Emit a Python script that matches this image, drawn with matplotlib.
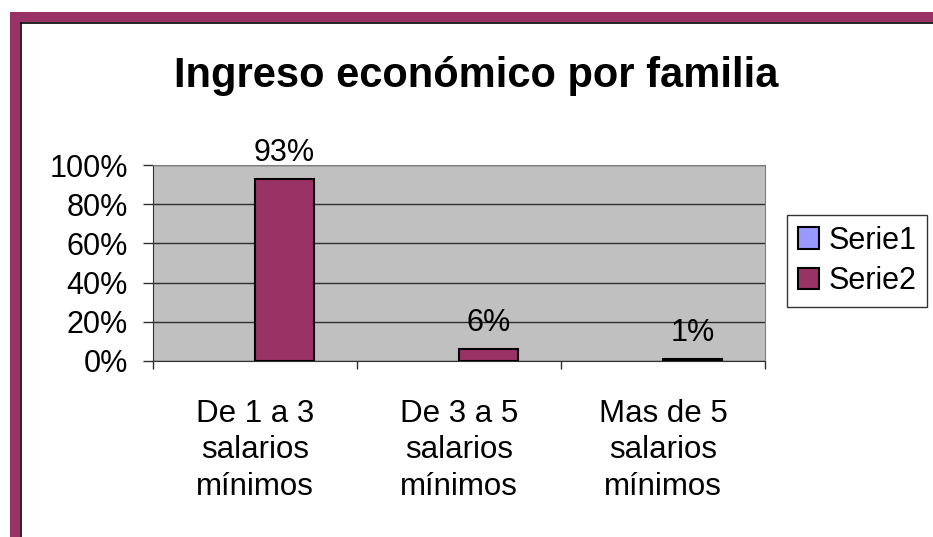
import numpy as np
import matplotlib
matplotlib.use("Agg")
import matplotlib.pyplot as plt
from matplotlib.patches import Rectangle
from matplotlib.lines import Line2D

plt.rcParams['font.family'] = ['Liberation Sans', 'DejaVu Sans']

categorias = ["De 1 a 3\nsalarios\nmínimos", "De 3 a 5\nsalarios\nmínimos", "Mas de 5\nsalarios\nmínimos"]
serie1 = [0, 0, 0]
serie2 = [0.93, 0.06, 0.01]
etiquetas = ["93%", "6%", "1%"]
yticks = [0, 0.2, 0.4, 0.6, 0.8, 1.0]
ylabels = ["0%", "20%", "40%", "60%", "80%", "100%"]

W, H = 933, 537
fig = plt.figure(figsize=(W / 100, H / 100), dpi=100)
fig.patch.set_facecolor('white')

# maroon frame on top and left
maroon = '#993366'
fig.patches.append(Rectangle((10 / W, 0), 10 / W, 1 - 12 / H, transform=fig.transFigure,
                             facecolor=maroon, edgecolor='none', zorder=0))
fig.patches.append(Rectangle((10 / W, 1 - 22 / H), 1, 10 / H, transform=fig.transFigure,
                             facecolor=maroon, edgecolor='none', zorder=0))
fig.lines.append(Line2D([20.5 / W, 1], [1 - 22.5 / H, 1 - 22.5 / H], transform=fig.transFigure,
                        color='black', lw=1.2))
fig.lines.append(Line2D([20.5 / W, 20.5 / W], [0, 1 - 22.5 / H], transform=fig.transFigure,
                        color='black', lw=1.2))

ax = fig.add_axes([153 / W, 1 - 361 / H, (765 - 153) / W, (361 - 165) / H])
ax.set_facecolor('#C0C0C0')

x = np.arange(len(categorias))
bw = 0.29
b1 = ax.bar(x - bw / 2, serie1, bw, color='#9999FF', edgecolor='black', linewidth=0, label='Serie1', zorder=3)
b2 = ax.bar(x + bw / 2, serie2, bw, color='#993366', edgecolor='black', linewidth=1.5, label='Serie2', zorder=3)

for xi, v, t in zip(x, serie2, etiquetas):
    ax.annotate(t, (xi + bw / 2, v), xytext=(0, 8), textcoords='offset points',
                ha='center', va='bottom', fontsize=22)

ax.set_xlim(-0.5, 2.5)
ax.set_ylim(0, 1)
ax.set_yticks(yticks)
ax.set_yticklabels(ylabels, fontsize=22)
ax.yaxis.grid(True, color='#303030', lw=1)
ax.set_axisbelow(True)
ax.tick_params(axis='y', direction='out', length=7, width=1, pad=11, color='#303030')

ax.set_xticks(x)
ax.set_xticklabels(categorias, fontsize=22.5, linespacing=1.3)
ax.set_xticks([-0.5, 0.5, 1.5, 2.5], minor=True)
ax.tick_params(axis='x', which='major', length=0, pad=27)
ax.tick_params(axis='x', which='minor', direction='out', length=6, width=1, color='#303030')

for s in ['left', 'bottom']:
    ax.spines[s].set_color('#303030')
for s in ['top', 'right']:
    ax.spines[s].set_color('#808080')

fig.text(476 / W, 1 - 76 / H, "Ingreso económico por familia", ha='center', va='center',
         fontsize=30, fontweight='bold')

leg = fig.legend(handles=[b1, b2], labels=['Serie1', 'Serie2'], loc='upper left',
                 bbox_to_anchor=(787 / W, 1 - 215 / H), fontsize=22, frameon=True,
                 fancybox=False, edgecolor='black', handlelength=0.7, handleheight=0.7,
                 handletextpad=0.3, borderpad=0.35, labelspacing=0.35, borderaxespad=0)
leg.get_frame().set_linewidth(1)
for h in leg.legend_handles:
    h.set_edgecolor('black')
    h.set_linewidth(1.5)

fig.savefig('out.png', dpi=100)
